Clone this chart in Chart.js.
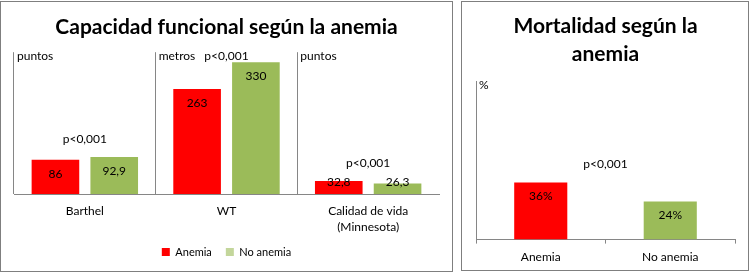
<!DOCTYPE html>
<html>
<head>
<meta charset="utf-8">
<script src="https://cdn.jsdelivr.net/npm/chart.js@4"></script>
<style>
  html, body { margin: 0; padding: 0; background: #fff; }
  body { width: 750px; height: 273px; position: relative; overflow: hidden; }
  .panel { position: absolute; box-sizing: border-box; border: 1px solid #7f7f7f; background: #fff; }
  #p1 { left: 0; top: 1px; width: 453px; height: 271px; }
  #p2 { left: 461px; top: 1px; width: 288px; height: 270px; }
  canvas { display: block; }
</style>
</head>
<body>
<div class="panel" id="p1"><canvas id="funcChart" width="451" height="269"></canvas></div>
<div class="panel" id="p2"><canvas id="mortChart" width="286" height="268"></canvas></div>
<script>
/* ═══════════════════════════════════════════════
   DATA
═══════════════════════════════════════════════ */
const funcCategories = ['Barthel', 'WT', ['Calidad de vida', '(Minnesota)']];
const funcUnits = ['puntos', 'metros', 'puntos'];
const funcPValues = ['p<0,001', 'p<0,001', 'p<0,001'];
const anemiaValues = [86, 263, 32.8];
const noAnemiaValues = [92.9, 330, 26.3];

const mortCategories = ['Anemia', 'No anemia'];
const mortValues = [36, 24];
const mortUnit = '%';
const mortPValue = 'p<0,001';

const seriesNames = ['Anemia', 'No anemia'];
const RED = '#FF0000';
const GREEN = '#9BBB59';
const GREEN_LEGEND = '#C3D69B';
const GRAY = '#868686';
const FONT = "Lato, 'Open Sans', sans-serif";

function fmtNum(v) { return String(v).replace('.', ','); }

/* labels inside bars + units + p-values */
const annotPlugin = {
  id: 'annot',
  afterDatasetsDraw(chart, args, opts) {
    const { ctx, chartArea } = chart;
    const x = chart.scales.x;
    const y = chart.scales.y;
    const base = y.getPixelForValue(0);
    ctx.save();
    ctx.font = '12px ' + FONT;
    ctx.fillStyle = '#000';
    ctx.textBaseline = 'middle';

    // value labels
    ctx.textAlign = 'center';
    chart.data.datasets.forEach((ds, di) => {
      chart.getDatasetMeta(di).data.forEach((bar, i) => {
        const ty = Math.min(bar.y + 14, base - 12);
        ctx.fillText(fmtNum(ds.data[i]) + (opts.suffix || ''), bar.x, ty);
      });
    });

    // unit labels at top of each section
    ctx.textAlign = 'left';
    const half = (x.getPixelForValue(1) - x.getPixelForValue(0)) / 2;
    const unitY = chartArea.top + 4;
    opts.units.forEach((u, i) => {
      const left = opts.perCategory ? x.getPixelForValue(i) - half : chartArea.left;
      ctx.fillText(u, left + 3, unitY);
    });

    // p-values
    ctx.textAlign = 'center';
    opts.pValues.forEach((p, i) => {
      let top, cx;
      if (opts.perCategory) {
        top = Math.min(...chart.data.datasets.map((ds, di) => chart.getDatasetMeta(di).data[i].y));
        cx = x.getPixelForValue(i);
      } else {
        top = Math.min(...chart.getDatasetMeta(0).data.map(b => b.y));
        cx = (chartArea.left + chartArea.right) / 2;
      }
      ctx.fillText(p, cx, Math.max(top - 18, unitY));
    });
    ctx.restore();
  }
};

/* ═══════════════════════════════════════════════
   CAPACIDAD FUNCIONAL
═══════════════════════════════════════════════ */
new Chart(document.getElementById('funcChart'), {
  type: 'bar',
  data: {
    labels: funcCategories,
    datasets: [
      { label: seriesNames[0], data: anemiaValues, backgroundColor: RED },
      { label: seriesNames[1], data: noAnemiaValues, backgroundColor: GREEN }
    ]
  },
  options: {
    responsive: false,
    animation: false,
    categoryPercentage: 0.83,
    barPercentage: 0.81,
    layout: { padding: { left: 13, right: 13, top: 0, bottom: 3.5 } },
    plugins: {
      title: {
        display: true,
        text: 'Capacidad funcional según la anemia',
        color: '#000',
        font: { family: FONT, size: 21, weight: 'bold', lineHeight: 1.2 },
        padding: { top: 12.5, bottom: 12.5 }
      },
      legend: {
        position: 'bottom',
        labels: {
          boxWidth: 8,
          boxHeight: 8,
          padding: 14,
          color: '#000',
          font: { family: FONT, size: 11 },
          generateLabels: () => seriesNames.map((name, i) => ({
            text: name,
            fillStyle: i === 0 ? RED : GREEN_LEGEND,
            strokeStyle: 'transparent',
            lineWidth: 0,
            datasetIndex: i
          }))
        }
      },
      tooltip: { enabled: false },
      annot: { units: funcUnits, pValues: funcPValues, perCategory: true }
    },
    scales: {
      x: {
        afterFit: s => { s.height = 38.5; },
        grid: {
          offset: true,
          drawTicks: false,
          color: c => c.type === 'tick' ? GRAY : 'transparent'
        },
        border: { color: GRAY },
        ticks: {
          padding: 9,
          color: '#000',
          font: { family: FONT, size: 12, lineHeight: 1.35 }
        }
      },
      y: { display: false, min: 0, max: 355 }
    }
  },
  plugins: [annotPlugin]
});

/* ═══════════════════════════════════════════════
   MORTALIDAD
═══════════════════════════════════════════════ */
new Chart(document.getElementById('mortChart'), {
  type: 'bar',
  data: {
    labels: mortCategories,
    datasets: [
      { label: 'Mortalidad', data: mortValues, backgroundColor: [RED, GREEN] }
    ]
  },
  options: {
    responsive: false,
    animation: false,
    categoryPercentage: 1,
    barPercentage: 0.41,
    layout: { padding: { left: 14, right: 13, top: 0, bottom: 0 } },
    plugins: {
      title: {
        display: true,
        text: ['Mortalidad según la', 'anemia'],
        color: '#000',
        font: { family: FONT, size: 21, weight: 'bold', lineHeight: 1.333 },
        padding: { top: 10.5, bottom: 12.5 }
      },
      legend: { display: false },
      tooltip: { enabled: false },
      annot: { units: [mortUnit], pValues: [mortPValue], perCategory: false, suffix: '%' }
    },
    scales: {
      x: {
        grid: {
          offset: true,
          tickLength: 4,
          tickColor: GRAY,
          color: c => (c.type === 'tick' && c.index === 0) ? GRAY : 'transparent'
        },
        border: { color: GRAY },
        ticks: {
          padding: 6,
          color: '#000',
          font: { family: FONT, size: 12, lineHeight: 1.2 }
        }
      },
      y: { display: false, min: 0, max: 100 }
    }
  },
  plugins: [annotPlugin]
});
</script>
</body>
</html>
